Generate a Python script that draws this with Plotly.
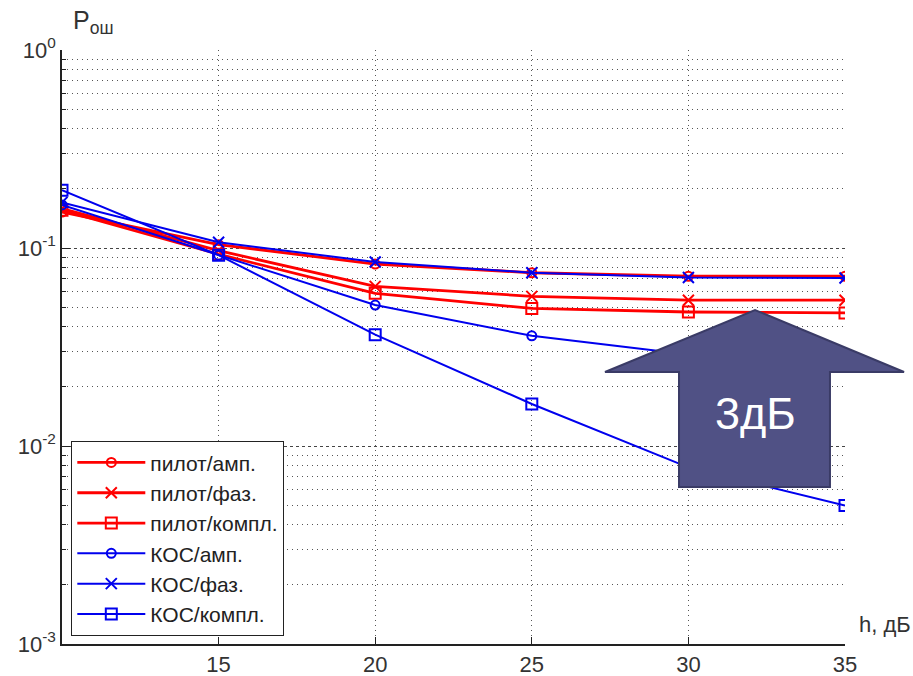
import plotly.graph_objects as go

# ---- data ----
h_db = [10, 15, 20, 25, 30, 35]
pilot_amp = [0.152, 0.104, 0.083, 0.075, 0.072, 0.072]
pilot_phase = [0.158, 0.097, 0.064, 0.057, 0.0545, 0.0545]
pilot_compl = [0.155, 0.093, 0.059, 0.0495, 0.0475, 0.047]
kos_amp = [0.165, 0.092, 0.0515, 0.036, 0.029, 0.025]
kos_phase = [0.170, 0.107, 0.085, 0.075, 0.071, 0.0705]
kos_compl = [0.196, 0.092, 0.0365, 0.0163, 0.0078, 0.005]

series_names = ["пилот/амп.", "пилот/фаз.", "пилот/компл.",
                "КОС/амп.", "КОС/фаз.", "КОС/компл."]
x_ticks = [15, 20, 25, 30, 35]
x_ticklabels = ["15", "20", "25", "30", "35"]
y_ticks = [0.001, 0.01, 0.1, 1]
y_ticklabels = ["10<sup>-3</sup>", "10<sup>-2</sup>", "10<sup>-1</sup>", "10<sup>0</sup>"]
y_minor = [m * 10.0 ** e for e in (-3, -2, -1) for m in range(2, 10)]

RED = "#ff0000"
BLUE = "#0000ee"

styles = [
    (pilot_amp, RED, "circle-open", 9, 2.8),
    (pilot_phase, RED, "x-thin-open", 11, 2.8),
    (pilot_compl, RED, "square-open", 11, 2.8),
    (kos_amp, BLUE, "circle-open", 9, 2),
    (kos_phase, BLUE, "x-thin-open", 11, 2),
    (kos_compl, BLUE, "square-open", 11, 2),
]

fig = go.Figure()
for (vals, col, sym, sz, lw), name in zip(styles, series_names):
    fig.add_trace(go.Scatter(
        x=h_db, y=vals, name=name, mode="lines+markers",
        line=dict(color=col, width=lw),
        marker=dict(symbol=sym, size=sz, color=col, line=dict(color=col, width=2)),
    ))

L, R, T, B = 62, 68, 50, 32
FONT = "Liberation Sans, Arial, sans-serif"
fig.update_layout(
    width=913, height=676,
    margin=dict(l=L, r=R, t=T, b=B, autoexpand=False),
    paper_bgcolor="white", plot_bgcolor="white",
    font=dict(family=FONT, color="#333"),
    showlegend=True,
    legend=dict(
        x=0.0115, y=0.0135, xanchor="left", yanchor="bottom",
        bgcolor="white", bordercolor="#222", borderwidth=1.3,
        font=dict(size=21, color="#222"),
        tracegroupgap=0, itemwidth=68,
    ),
)

fig.update_xaxes(
    range=[10, 35], tickmode="array", tickvals=x_ticks, ticktext=x_ticklabels,
    automargin=False,
    showline=True, linecolor="#222", linewidth=1.5, mirror=False,
    ticks="inside", ticklen=7, tickcolor="#222", tickwidth=1.3,
    showgrid=True, gridcolor="#555", gridwidth=1, griddash="1px,4px",
    zeroline=False, tickfont=dict(size=22, color="#333"),
)
fig.update_yaxes(
    type="log", range=[-3, 0], tickmode="array", tickvals=y_ticks, ticktext=y_ticklabels,
    automargin=False,
    showline=True, linecolor="#222", linewidth=1.5, mirror=False,
    ticks="inside", ticklen=8, tickcolor="#222", tickwidth=1.3,
    showgrid=True, gridcolor="#444", gridwidth=1, griddash="3px,3px",
    zeroline=False, tickfont=dict(size=22, color="#333"),
    minor=dict(tickmode="array", tickvals=y_minor, ticks="inside", ticklen=4,
               tickcolor="#222", showgrid=True, gridcolor="#555", gridwidth=1,
               griddash="1px,4px"),
)

# axis labels
fig.add_annotation(xref="paper", yref="paper", x=0.012, y=1.047, xanchor="left", yanchor="middle",
                   text="P<sub>ош</sub>", showarrow=False, font=dict(size=25, color="#333"))
fig.add_annotation(xref="paper", yref="paper", x=1.015, y=0.032, xanchor="left", yanchor="middle",
                   text="h, дБ", showarrow=False, font=dict(size=22, color="#333"))

# big arrow annotation "3дБ"
W = 913 - L - R
H = 676 - T - B
def px(xp):
    return (xp - L) / W
def py(yp):
    return (676 - B - yp) / H
pts = [(605, 372), (755, 310), (904, 372), (830, 372), (830, 487), (679, 487), (679, 372)]
path = "M " + " L ".join(f"{px(a):.4f},{py(b):.4f}" for a, b in pts) + " Z"
fig.add_shape(type="path", xref="paper", yref="paper", path=path,
              fillcolor="#505185", line=dict(color="#3a3b66", width=2), layer="above")
fig.add_annotation(xref="paper", yref="paper", x=px(755), y=py(413), xanchor="center", yanchor="middle",
                   text="3дБ", showarrow=False, font=dict(size=45, color="white", family=FONT))

fig.write_html("out.html")
